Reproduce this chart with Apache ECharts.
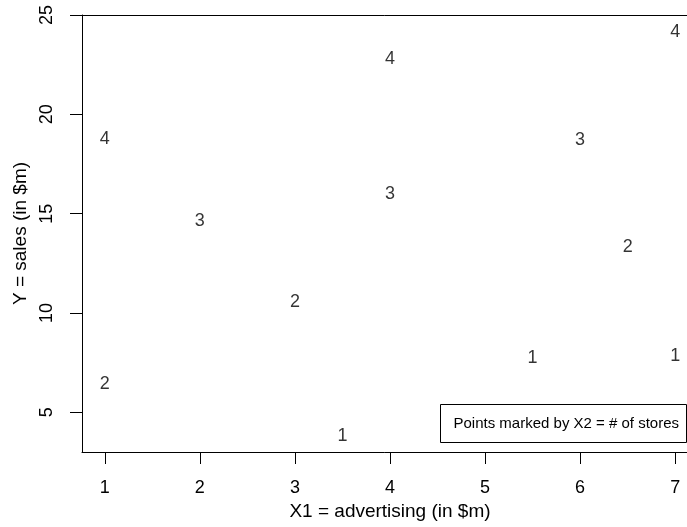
<!DOCTYPE html>
<html><head><meta charset="utf-8">
<script src="https://cdn.jsdelivr.net/npm/echarts@6/dist/echarts.min.js"></script>
<style>html,body{margin:0;padding:0;background:#fff}#c{width:687px;height:527px}</style>
</head><body><div id="c"></div>
<script>
const advertising = [1, 1, 2, 3, 3.5, 4, 4, 5.5, 6, 6.5, 7, 7];
const sales = [6.4, 18.75, 14.65, 10.55, 3.8, 22.8, 16.0, 7.75, 18.7, 13.3, 7.85, 24.15];
const stores = [2, 4, 3, 2, 1, 4, 3, 1, 3, 2, 1, 4];
const xTicks = [1, 2, 3, 4, 5, 6, 7];
const yTicks = [5, 10, 15, 20, 25];
const xTitle = 'X1 = advertising (in $m)';
const yTitle = 'Y = sales (in $m)';
const legendText = 'Points marked by X2 = # of stores';

const FONT = '"Liberation Sans", Arial, sans-serif';
const chart = echarts.init(document.getElementById('c'), null, {renderer: 'canvas'});
const data = advertising.map((x, i) => [x, sales[i], stores[i]]);

chart.setOption({
  animation: false,
  backgroundColor: '#fff',
  grid: {left: 82, top: 15, width: 616, height: 437, outerBoundsMode: 'none', containLabel: false, show: false},
  xAxis: [{
    type: 'value', min: 0.76, max: 7.24,
    name: xTitle, nameLocation: 'middle', nameGap: 49,
    nameTextStyle: {fontFamily: FONT, fontSize: 19, color: '#000'},
    axisLine: {show: true, onZero: false, lineStyle: {color: '#000', width: 1}},
    axisTick: {show: true, inside: false, length: 12, customValues: xTicks, lineStyle: {color: '#000', width: 1}},
    axisLabel: {show: true, customValues: xTicks, margin: 27, fontFamily: FONT, fontSize: 18, color: '#000'},
    splitLine: {show: false}
  }, {
    type: 'value', min: 0.76, max: 7.24, position: 'top',
    axisLine: {show: true, onZero: false, lineStyle: {color: '#000', width: 1}},
    axisTick: {show: false}, axisLabel: {show: false}, splitLine: {show: false}
  }],
  yAxis: {
    type: 'value', min: 3, max: 25,
    name: yTitle, nameLocation: 'middle', nameGap: 52, nameRotate: 90,
    nameTextStyle: {fontFamily: FONT, fontSize: 19, color: '#000'},
    axisLine: {show: true, onZero: false, lineStyle: {color: '#000', width: 1}},
    axisTick: {show: true, inside: false, length: 12, customValues: yTicks, lineStyle: {color: '#000', width: 1}},
    axisLabel: {show: true, customValues: yTicks, rotate: 90, margin: 26, fontFamily: FONT, fontSize: 18, color: '#000'},
    splitLine: {show: false}
  },
  series: [{
    type: 'scatter',
    xAxisIndex: 0,
    data: data,
    symbol: 'circle',
    symbolSize: 1,
    itemStyle: {color: 'rgba(0,0,0,0)'},
    label: {show: true, position: 'inside', formatter: p => String(p.value[2]), fontFamily: FONT, fontSize: 18, color: '#000'}
  }],
  graphic: [{
    type: 'group', left: 440, top: 404,
    children: [
      {type: 'rect', shape: {x: 0, y: 0, width: 246, height: 38}, style: {fill: '#fff', stroke: '#000', lineWidth: 1}},
      {type: 'text', x: 13, y: 19, style: {text: legendText, font: '15px ' + FONT, fill: '#000', verticalAlign: 'middle'}}
    ]
  }]
});
</script>
</body></html>
